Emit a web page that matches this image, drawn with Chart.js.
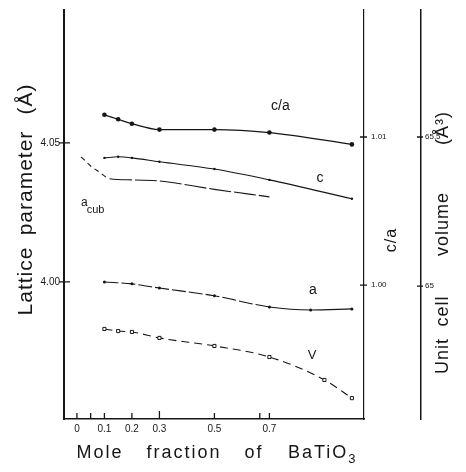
<!DOCTYPE html>
<html>
<head>
<meta charset="utf-8">
<script src="https://cdn.jsdelivr.net/npm/chart.js@4/dist/chart.umd.min.js"></script>
<style>
html, body { margin: 0; padding: 0; background: #fff; }
canvas { display: block; }
</style>
</head>
<body>
<canvas id="grafico" width="466" height="472"></canvas>
<script>
// x axis - mole fraction of BaTiO3
const xTicks = [0, 0.1, 0.2, 0.3, 0.5, 0.7];
const xTickLabels = ['0', '0.1', '0.2', '0.3', '0.5', '0.7'];
const xMarks = [0, 0.05, 0.1, 0.2, 0.3, 0.5, 0.665, 0.7];
const xRange = [-0.047, 1.044];

// left axis - lattice parameter (A)
const latTicks = [4.00, 4.05];
const latTickLabels = ['4.00', '4.05'];
const latRange = [3.9507, 4.0978];

// first right axis - c/a
const caTicks = [1.00, 1.01];
const caTickLabels = ['1.00', '1.01'];
const caRange = [0.99095, 1.01858];

// second right axis - unit cell volume (A^3)
const volTicks = [65, 65.5];
const volTickLabels = ['65', '65.5'];
const volRange = [64.554, 65.926];

// series
const caX = [0.1, 0.15, 0.2, 0.3, 0.5, 0.7, 1.0];
const caVal = [1.0115, 1.0112, 1.0109, 1.0105, 1.0105, 1.0103, 1.0095];

const cX = [0.1, 0.15, 0.2, 0.3, 0.5, 0.7, 1.0];
const cVal = [4.0446, 4.0450, 4.0446, 4.0432, 4.0406, 4.0367, 4.0299];

const acubX = [0.015, 0.05, 0.08, 0.12, 0.2, 0.3, 0.5, 0.7];
const acubVal = [4.0450, 4.0417, 4.0396, 4.0371, 4.0367, 4.0363, 4.0333, 4.0306];

const aX = [0.1, 0.2, 0.3, 0.5, 0.7, 0.85, 1.0];
const aVal = [4.0000, 3.9993, 3.9978, 3.9950, 3.9910, 3.9899, 3.9903];

const vX = [0.1, 0.15, 0.2, 0.3, 0.5, 0.7, 0.9, 1.0];
const vVal = [64.856, 64.849, 64.846, 64.826, 64.799, 64.762, 64.685, 64.624];

// curve labels, in data coords of x / left axis
const curveLabels = [
    { text: 'c/a', x: 0.74, y: 4.0633, size: 14 },
    { text: 'c', x: 0.884, y: 4.0374, size: 14 },
    { text: 'a', x: 0.858, y: 3.9971, size: 14 },
    { text: 'V', x: 0.855, y: 3.9734, size: 13 },
    { text: 'a', x: 0.027, y: 4.0286, size: 12 },
    { text: 'cub', x: 0.068, y: 4.0258, size: 11 }
];

const ink = '#161616';
const fam = '"Liberation Sans", Arial, sans-serif';

function pts(xs, ys) {
    return xs.map((v, i) => ({ x: v, y: ys[i] }));
}

function fixedTicks(vals) {
    return function (scale) {
        scale.ticks = vals.map(v => ({ value: v }));
    };
}

function sizeFix(w, h) {
    return function (scale) {
        if (w !== null) scale.width = w;
        if (h !== null) scale.height = h;
        scale.paddingTop = 0; scale.paddingBottom = 0;
        scale.paddingLeft = 0; scale.paddingRight = 0;
    };
}

function axisOpts(pos, range, vals, labels, w, h, fontSize, pad, borderW) {
    return {
        type: 'linear',
        position: pos,
        min: range[0],
        max: range[1],
        afterBuildTicks: fixedTicks(vals),
        afterFit: sizeFix(w, h),
        ticks: {
            callback: (v, i) => labels[i],
            font: { family: fam, size: fontSize },
            color: ink,
            padding: pad,
            autoSkip: false,
            maxRotation: 0
        },
        grid: { display: true, drawOnChartArea: false, drawTicks: false },
        border: { display: true, color: ink, width: borderW }
    };
}

function vText(ctx, txt, x, y, size) {
    ctx.save();
    ctx.translate(x, y);
    ctx.rotate(-Math.PI / 2);
    ctx.font = size + 'px ' + fam;
    ctx.textAlign = 'center';
    ctx.textBaseline = 'alphabetic';
    ctx.fillText(txt, 0, 0);
    ctx.restore();
}

// tick marks, titles and curve labels
const extras = {
    id: 'extras',
    afterDraw(chart) {
        const ctx = chart.ctx;
        const sx = chart.scales.x, sy = chart.scales.y;
        const sca = chart.scales.yCA, sv = chart.scales.yV;
        ctx.save();
        ctx.strokeStyle = ink;
        ctx.fillStyle = ink;
        ctx.lineWidth = 1.3;
        ctx.beginPath();
        xMarks.forEach(v => {
            const px = sx.getPixelForValue(v);
            ctx.moveTo(px, sx.top);
            ctx.lineTo(px, sx.top - (v === 0.3 ? 8 : 6));
        });
        latTicks.forEach(v => {
            const py = sy.getPixelForValue(v);
            ctx.moveTo(sy.right - 5, py);
            ctx.lineTo(sy.right + 6, py);
        });
        caTicks.forEach(v => {
            const py = sca.getPixelForValue(v);
            ctx.moveTo(sca.left - 4, py);
            ctx.lineTo(sca.left + 3, py);
        });
        volTicks.forEach(v => {
            const py = sv.getPixelForValue(v);
            ctx.moveTo(sv.left - 4, py);
            ctx.lineTo(sv.left + 2, py);
        });
        ctx.stroke();

        // axis titles
        if ('letterSpacing' in ctx) ctx.letterSpacing = '1px';
        vText(ctx, 'Lattice', 32, 281, 21);
        vText(ctx, 'parameter', 32, 183, 21);
        vText(ctx, '(Å)', 32, 99, 21);
        vText(ctx, 'c/a', 396, 240, 16);
        vText(ctx, 'Unit', 448, 356, 18);
        vText(ctx, 'cell', 448, 311, 18);
        vText(ctx, 'volume', 448, 224, 18);
        vText(ctx, '(Å³)', 448, 128, 18);

        if ('letterSpacing' in ctx) ctx.letterSpacing = '2px';
        ctx.font = '18px ' + fam;
        ctx.textAlign = 'center';
        ctx.textBaseline = 'alphabetic';
        ctx.fillText('Mole', 100, 458);
        ctx.fillText('fraction', 184, 458);
        ctx.fillText('of', 254, 458);
        ctx.textAlign = 'left';
        ctx.fillText('BaTiO', 288, 458);
        const w = ctx.measureText('BaTiO').width;
        ctx.font = '13px ' + fam;
        ctx.fillText('3', 288 + w, 463);

        // labels on the curves
        if ('letterSpacing' in ctx) ctx.letterSpacing = '0px';
        ctx.textAlign = 'center';
        ctx.textBaseline = 'middle';
        curveLabels.forEach(l => {
            ctx.font = l.size + 'px ' + fam;
            ctx.fillText(l.text, sx.getPixelForValue(l.x), sy.getPixelForValue(l.y));
        });
        ctx.restore();
    }
};

new Chart(document.getElementById('grafico'), {
    type: 'line',
    data: {
        datasets: [
            {
                label: 'c/a',
                data: pts(caX, caVal),
                yAxisID: 'yCA',
                borderColor: ink,
                borderWidth: 1.3,
                pointRadius: 2.3,
                pointBackgroundColor: ink,
                pointBorderWidth: 0,
                cubicInterpolationMode: 'monotone'
            },
            {
                label: 'c',
                data: pts(cX, cVal),
                yAxisID: 'y',
                borderColor: ink,
                borderWidth: 1.1,
                pointRadius: 1.2,
                pointBackgroundColor: ink,
                pointBorderWidth: 0,
                cubicInterpolationMode: 'monotone'
            },
            {
                label: 'a cub',
                data: pts(acubX, acubVal),
                yAxisID: 'y',
                borderColor: ink,
                borderWidth: 1.1,
                pointRadius: 0,
                cubicInterpolationMode: 'monotone',
                segment: {
                    borderDash: c => c.p1DataIndex <= 3 ? [5, 4] : [22, 3]
                }
            },
            {
                label: 'a',
                data: pts(aX, aVal),
                yAxisID: 'y',
                borderColor: ink,
                borderWidth: 1.1,
                pointRadius: 1.5,
                pointBackgroundColor: ink,
                pointBorderWidth: 0,
                cubicInterpolationMode: 'monotone',
                segment: {
                    borderDash: c => c.p1DataIndex <= 4 ? [14, 3] : undefined
                }
            },
            {
                label: 'V',
                data: pts(vX, vVal),
                yAxisID: 'yV',
                borderColor: ink,
                borderWidth: 1.1,
                borderDash: [8, 5],
                pointStyle: 'rect',
                pointRadius: 2.2,
                pointBackgroundColor: '#fff',
                pointBorderColor: ink,
                pointBorderWidth: 1,
                cubicInterpolationMode: 'monotone'
            }
        ]
    },
    options: {
        responsive: false,
        devicePixelRatio: 1,
        animation: false,
        layout: { autoPadding: false, padding: { top: 10, left: 0, right: 0, bottom: 0 } },
        plugins: { legend: { display: false }, tooltip: { enabled: false } },
        scales: {
            x: axisOpts('bottom', xRange, xTicks, xTickLabels, null, 53, 10, 4, 1.5),
            y: axisOpts('left', latRange, latTicks, latTickLabels, 64, null, 10, 4, 2),
            yCA: axisOpts('right', caRange, caTicks, caTickLabels, 57, null, 8, 7, 1.2),
            yV: axisOpts('right', volRange, volTicks, volTickLabels, 45, null, 8, 4, 1.5)
        }
    },
    plugins: [extras]
});
</script>
</body>
</html>
